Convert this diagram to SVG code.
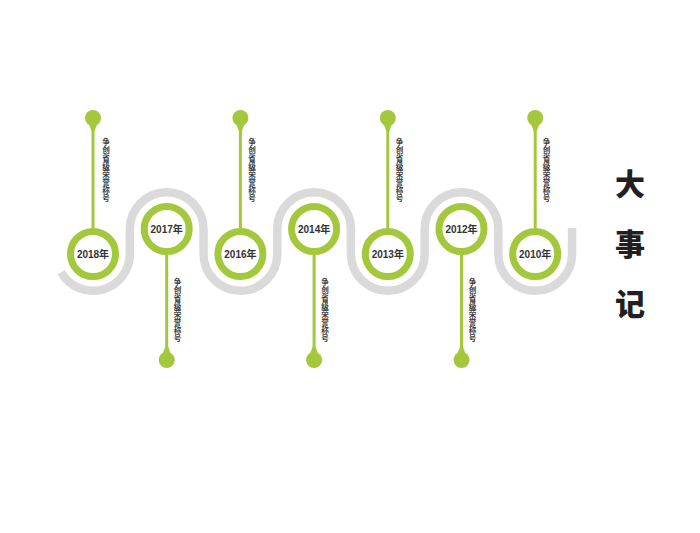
<svg xmlns="http://www.w3.org/2000/svg" width="700" height="533" viewBox="0 0 700 533">
<style>
.wave{fill:none;stroke:#dadada;stroke-width:8.5}
.ring{fill:#fff;stroke:#a3c83c;stroke-width:7}
.stem{stroke:#a3c83c;stroke-width:3}
.dot{fill:#a3c83c}
.yr{font-family:"Liberation Sans","Noto Sans CJK SC",sans-serif;font-weight:bold;font-size:10px;fill:#333;text-anchor:middle;dominant-baseline:central}
.lbl{font-family:"Noto Sans CJK SC",sans-serif;font-size:7.6px;font-weight:bold;fill:#3a3a3a;text-anchor:middle}
.title{font-family:"Noto Sans CJK SC",sans-serif;font-weight:900;font-size:30px;fill:#231f20;text-anchor:middle;dominant-baseline:central}
</style>
<defs>
<text id="lbl" class="lbl"><tspan x="0" y="0">争</tspan><tspan x="0" dy="8">创</tspan><tspan x="0" dy="8">省</tspan><tspan x="0" dy="8">级</tspan><tspan x="0" dy="8">荣</tspan><tspan x="0" dy="8">誉</tspan><tspan x="0" dy="8">称</tspan><tspan x="0" dy="8">号</tspan></text>
</defs>
<rect width="700" height="533" fill="#fff"/>
<g id="connectors">
<path class="wave" d="M61.1,272.4 A36.85,36.85 0 0 0 129.85,254 L129.85,229 A36.85,36.85 0 0 1 203.55,229 L203.55,254 A36.85,36.85 0 0 0 277.25,254 L277.25,229 A36.85,36.85 0 0 1 350.95,229 L350.95,254 A36.85,36.85 0 0 0 424.65,254 L424.65,229 A36.85,36.85 0 0 1 498.35,229 L498.35,254 A36.85,36.85 0 0 0 572.05,254 L572.05,228"/>
<line class="stem" x1="93" y1="228" x2="93" y2="125"/>
<line class="stem" x1="240.4" y1="228" x2="240.4" y2="125"/>
<line class="stem" x1="387.8" y1="228" x2="387.8" y2="125"/>
<line class="stem" x1="535.2" y1="228" x2="535.2" y2="125"/>
<line class="stem" x1="166.7" y1="255" x2="166.7" y2="352"/>
<line class="stem" x1="314.1" y1="255" x2="314.1" y2="352"/>
<line class="stem" x1="461.5" y1="255" x2="461.5" y2="352"/>
</g>
<g id="dots">
<g id="dot-2018"><circle class="dot" cx="93" cy="118" r="8"/><polygon class="dot" points="88,122 98,122 94.5,131 91.5,131"/></g>
<g id="dot-2016"><circle class="dot" cx="240.4" cy="118" r="8"/><polygon class="dot" points="235.4,122 245.4,122 241.9,131 238.9,131"/></g>
<g id="dot-2013"><circle class="dot" cx="387.8" cy="118" r="8"/><polygon class="dot" points="382.8,122 392.8,122 389.3,131 386.3,131"/></g>
<g id="dot-2010"><circle class="dot" cx="535.2" cy="118" r="8"/><polygon class="dot" points="530.2,122 540.2,122 536.7,131 533.7,131"/></g>
<g id="dot-2017"><circle class="dot" cx="166.7" cy="360" r="8"/><polygon class="dot" points="161.7,356 171.7,356 168.2,347 165.2,347"/></g>
<g id="dot-2014"><circle class="dot" cx="314.1" cy="360" r="8"/><polygon class="dot" points="309.1,356 319.1,356 315.6,347 312.6,347"/></g>
<g id="dot-2012"><circle class="dot" cx="461.5" cy="360" r="8"/><polygon class="dot" points="456.5,356 466.5,356 463,347 460,347"/></g>
</g>
<g id="node-2018"><circle class="ring" cx="93" cy="254" r="22.5"/><text class="yr" x="93" y="254">2018年</text><use href="#lbl" x="106" y="145"/></g>
<g id="node-2017"><circle class="ring" cx="166.7" cy="229" r="22.5"/><text class="yr" x="166.7" y="229">2017年</text><use href="#lbl" x="177.5" y="285"/></g>
<g id="node-2016"><circle class="ring" cx="240.4" cy="254" r="22.5"/><text class="yr" x="240.4" y="254">2016年</text><use href="#lbl" x="252" y="145"/></g>
<g id="node-2014"><circle class="ring" cx="314.1" cy="229" r="22.5"/><text class="yr" x="314.1" y="229">2014年</text><use href="#lbl" x="325" y="285"/></g>
<g id="node-2013"><circle class="ring" cx="387.8" cy="254" r="22.5"/><text class="yr" x="387.8" y="254">2013年</text><use href="#lbl" x="399.5" y="145"/></g>
<g id="node-2012"><circle class="ring" cx="461.5" cy="229" r="22.5"/><text class="yr" x="461.5" y="229">2012年</text><use href="#lbl" x="472.5" y="285"/></g>
<g id="node-2010"><circle class="ring" cx="535.2" cy="254" r="22.5"/><text class="yr" x="535.2" y="254">2010年</text><use href="#lbl" x="546.5" y="145"/></g>
<g id="title"><text class="title" x="630" y="182">大</text><text class="title" x="630" y="242">事</text><text class="title" x="630" y="302">记</text></g>
</svg>
